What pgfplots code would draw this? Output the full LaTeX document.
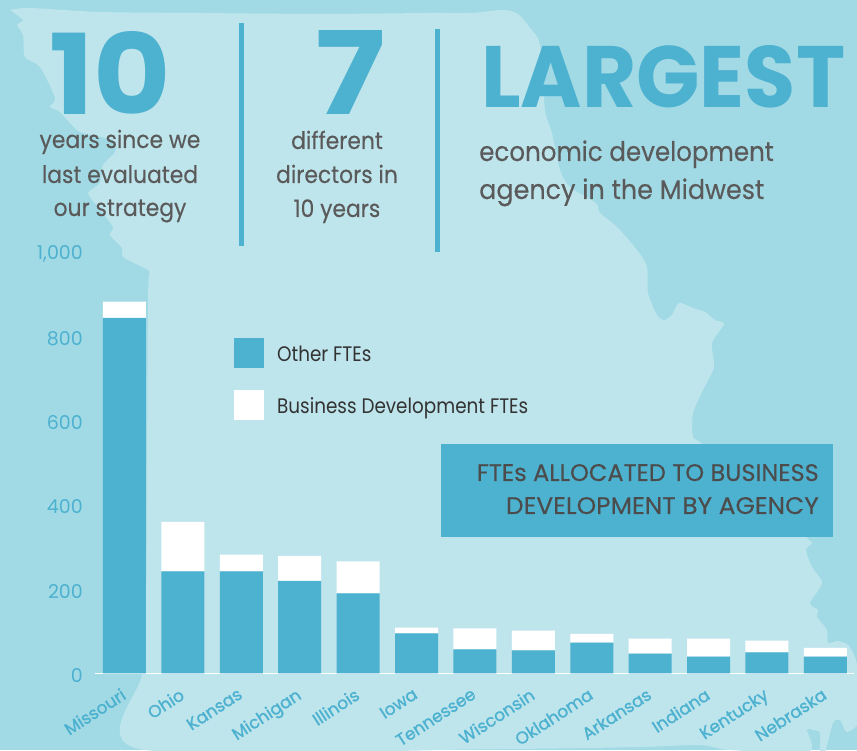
\documentclass[border=0pt]{standalone}
\usepackage{pgfplots}
\usepackage{fontspec}
\pgfplotsset{compat=1.18}
\setmainfont{Poppins}
\newfontfamily\condA[FakeStretch=0.91,FakeBold=0.25]{Poppins}
\newfontfamily\condB[FakeStretch=0.875]{Poppins}
\newfontfamily\condC[FakeStretch=1.0,FakeBold=0.2]{Poppins}
\newfontfamily\tickf[FakeBold=1.2]{Poppins}
\definecolor{bgc}{HTML}{A1DAE5}
\definecolor{statec}{HTML}{BEE5EC}
\definecolor{bluec}{HTML}{4DB1D0}
\definecolor{grayc}{HTML}{5A5A5A}
\definecolor{darkc}{HTML}{333333}
\begin{document}
\begin{tikzpicture}[x=1pt,y=1pt]
\useasboundingbox (0,0) rectangle (857,750);
\begin{scope}[yshift=750pt,y=-1pt]
\fill[bgc] (0,0) rectangle (857,750);
\begin{scope}
\clip (0,0) rectangle (857,750);
\fill[statec] plot[smooth,tension=0.45] coordinates {
 (10,10) (30,8) (100,12) (200,13) (320,14) (430,13) (470,13) (503,10) (518,14)
 (530,28) (540,45) (545,110) (552,133) (560,170) (570,187) (596,203) (600,213) (617,227) (637,250)
 (647,267) (648,293) (657,315) (664,320) (672,315) (679,303) (693,308) (705,312) (715,320) (724,324)
 (712,343) (714,367) (703,390) (693,413) (693,437) (701,443) (760,490) (807,538) (812,543) (806,550)
 (812,567) (822,583) (810,603) (818,610) (817,617) (827,630) (828,643) (838,641) (848,645) (855,657)
 (860,680) (860,720) (847,732) (840,720) (833,723) (825,752) (820,752) (820,733) (813,730) (807,730) (808,752)
 (730,750) (700,745) (640,747) (500,749) (139,749) (142,674) (146,600) (148,300) (150,273) (142,267)
 (123,257) (122,248) (110,235) (113,227) (98,207) (88,193) (100,183) (103,165) (115,152) (113,140)
 (80,132) (60,112) (50,107) (55,98) (40,67) (25,57) (23,35) (17,25) (23,20) (10,10)} -- cycle;
\end{scope}
\fill[bluec] (239,23) rectangle (244,246);
\fill[bluec] (435,29) rectangle (440,252);
\fill[bluec] (441,444) rectangle (833,537);
\node[anchor=south west,inner sep=0,text=bluec] at (49,115) {\resizebox{122pt}{83pt}{\bfseries 10}};
\node[anchor=south west,inner sep=0,text=bluec] at (315,115) {\resizebox{70pt}{84pt}{\bfseries 7}};
\node[anchor=south west,inner sep=0,text=bluec] at (481,108) {\resizebox{364pt}{62pt}{\bfseries LARGEST}};
\begin{scope}[every node/.style={inner sep=0,text=grayc,font=\condA\fontsize{24}{28}\selectfont}]
\node[anchor=base] at (120,148) {years since we};
\node[anchor=base] at (120,183) {last evaluated};
\node[anchor=base] at (120,216) {our strategy};
\node[anchor=base] at (337,149) {different};
\node[anchor=base] at (337,183) {directors in};
\node[anchor=base] at (337,217) {10 years};
\end{scope}
\begin{scope}[every node/.style={inner sep=0,text=grayc,font=\condA\fontsize{27}{30}\selectfont}]
\node[anchor=base west] at (479,161) {economic development};
\node[anchor=base west] at (479,199) {\scalebox{1.036}[1]{agency in the Midwest}};
\end{scope}
\begin{scope}[every node/.style={inner sep=0,text=grayc!85!black,font=\condC\fontsize{24}{26}\selectfont}]
\node[anchor=base east] at (819,481) {FTEs ALLOCATED TO BUSINESS};
\node[anchor=base east] at (819,514) {\scalebox{1.036}[1]{DEVELOPMENT BY AGENCY}};
\end{scope}
\end{scope}
\begin{axis}[
  at={(95pt,76.5pt)},anchor=south west,
  scale only axis,width=759pt,height=421.5pt,
  xmin=-0.505,xmax=12.49,ymin=0,ymax=1000,
  axis lines=left,
  x axis line style={white,line width=1.5pt,-},
  y axis line style={draw=none},
  major tick length=0pt,
  clip=false,
  ybar stacked,bar width=43pt,
  xtick={0,1,2,3,4,5,6,7,8,9,10,11,12},
  xticklabels={Missouri,Ohio,Kansas,Michigan,Illinois,Iowa,Tennessee,Wisconsin,Oklahoma,Arkansas,Indiana,Kentucky,Nebraska},
  x tick label style={rotate=33,anchor=north east,inner sep=0pt,xshift=-11pt,yshift=-9pt,text=bluec,font=\tickf\fontsize{17}{20}\selectfont},
  ytick={0,200,400,600,800,1000},
  y tick label style={text=bluec,font=\fontsize{19}{21}\selectfont,inner sep=0pt,xshift=-12pt,yshift=-2pt,
     /pgf/number format/assume math mode=true,/pgf/number format/1000 sep={,}},
  legend style={draw=none,fill=none,at={(0.1831,0.7962)},anchor=north west,inner sep=0pt,
    font=\condB\fontsize{21}{24}\color{darkc}\selectfont,row sep=22pt,
    /tikz/column 2/.style={column sep=0pt},nodes={inner sep=0pt}},
  legend cell align=left,
]
\addplot[fill=bluec,draw=none,legend image code/.code={\fill[bluec] (0pt,-14pt) rectangle (30pt,16pt);\path (43pt,0pt);}] coordinates {
 (0,844) (1,242) (2,242) (3,220) (4,190) (5,95) (6,57) (7,55) (8,73) (9,47) (10,40) (11,50) (12,40)};
\addlegendentry{Other FTEs}
\addplot[fill=white,draw=none,legend image code/.code={\fill[white] (0pt,-14pt) rectangle (30pt,16pt);\path (43pt,0pt);}] coordinates {
 (0,38) (1,118) (2,40) (3,59) (4,76) (5,14) (6,50) (7,47) (8,21) (9,36) (10,43) (11,28) (12,21)};
\addlegendentry{Business Development FTEs}
\end{axis}
\end{tikzpicture}
\end{document}
